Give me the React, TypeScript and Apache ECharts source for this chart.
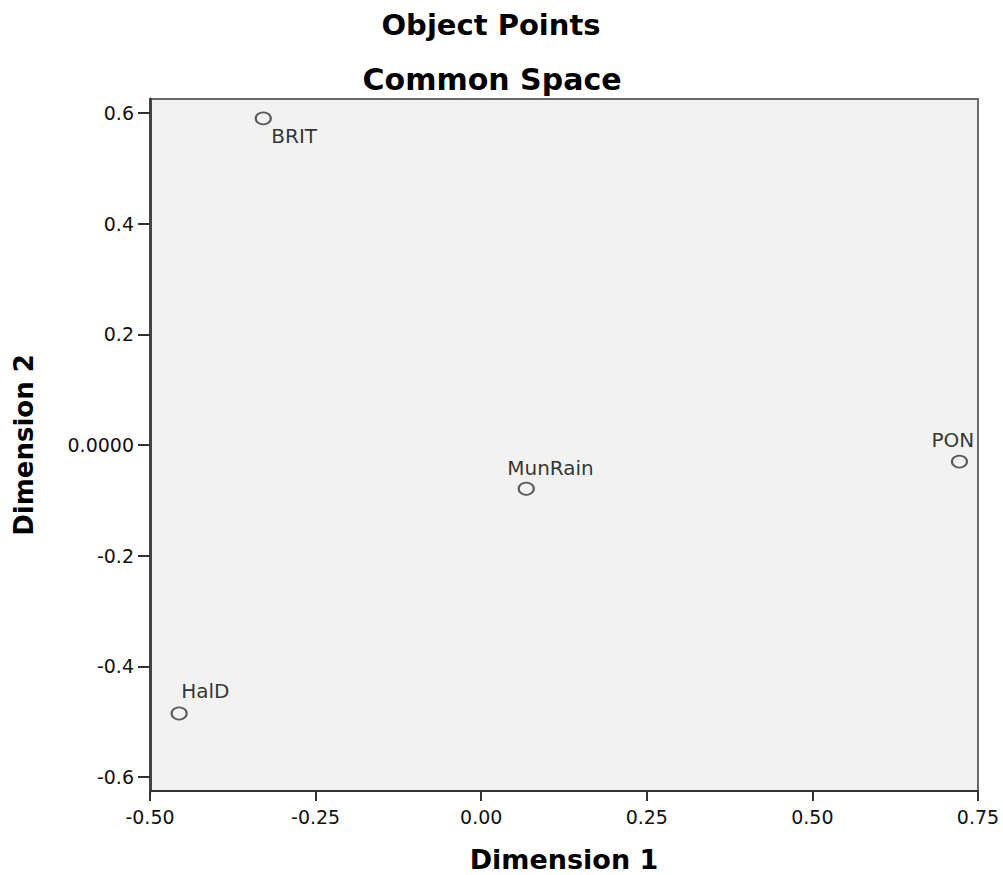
import React, { useEffect, useRef } from "react";
import * as echarts from "echarts";

const titleLines = ["Object Points", "Common Space"];
const xName = "Dimension 1";
const yName = "Dimension 2";
const pointNames = ["BRIT", "MunRain", "PON", "HalD"];
const dim1 = [-0.329, 0.068, 0.722, -0.456];
const dim2 = [0.59, -0.079, -0.03, -0.485];
const yTicks = [-0.6, -0.4, -0.2, 0, 0.2, 0.4, 0.6];

const labelOffsets: Record<string, number[]> = {
  BRIT: [8, 18],
  MunRain: [-19, -21],
  PON: [-28, -22],
  HalD: [2, -22],
};

const FONT = "DejaVu Sans";

export default function App() {
  const ref = useRef<HTMLDivElement>(null);
  useEffect(() => {
    document.body.style.margin = "0";
    const chart = echarts.init(ref.current!, undefined, { renderer: "svg" });
    const data = pointNames.map((n, i) => ({
      name: n,
      value: [dim1[i], dim2[i]],
      label: { offset: labelOffsets[n] },
    }));
    chart.setOption({
      animation: false,
      backgroundColor: "#ffffff",
      title: [
        {
          text: titleLines[0],
          left: 486,
          top: 5,
          textAlign: "center",
          textStyle: { fontFamily: FONT, fontWeight: "bold", fontSize: 29, color: "#000" },
        },
        {
          text: titleLines[1],
          left: 487,
          top: 59,
          textAlign: "center",
          textStyle: { fontFamily: FONT, fontWeight: "bold", fontSize: 30, color: "#000" },
        },
      ],
      grid: {
        left: 150,
        right: 25,
        top: 99,
        bottom: 84,
        outerBoundsMode: "none",
        containLabel: false,
        show: true,
        backgroundColor: "#f2f2f2",
        borderColor: "#6a6a6a",
        borderWidth: 2,
      },
      xAxis: {
        type: "value",
        min: -0.5,
        max: 0.75,
        interval: 0.25,
        name: xName,
        nameLocation: "middle",
        nameGap: 55,
        nameTextStyle: { fontFamily: FONT, fontWeight: "bold", fontSize: 27, color: "#000" },
        axisLine: { show: true, onZero: false, lineStyle: { color: "#333", width: 2 } },
        axisTick: { show: true, length: 10, lineStyle: { color: "#333", width: 2 } },
        axisLabel: {
          margin: 16,
          fontFamily: FONT,
          fontSize: 19,
          color: "#111",
          formatter: (v: number) => v.toFixed(2),
        },
        splitLine: { show: false },
      },
      yAxis: {
        type: "value",
        min: -0.625,
        max: 0.625,
        name: yName,
        nameLocation: "middle",
        nameGap: 113,
        nameRotate: 90,
        nameTextStyle: { fontFamily: FONT, fontWeight: "bold", fontSize: 26, color: "#000" },
        axisLine: { show: true, onZero: false, lineStyle: { color: "#444", width: 3 } },
        axisTick: {
          show: true,
          length: 12,
          customValues: yTicks,
          lineStyle: { color: "#333", width: 2 },
        },
        axisLabel: {
          margin: 16,
          fontFamily: FONT,
          fontSize: 19,
          color: "#111",
          customValues: yTicks,
          formatter: (v: number) => (Math.abs(v) < 1e-9 ? "0.0000" : v.toFixed(1)),
        },
        splitLine: { show: false },
      },
      series: [
        {
          type: "scatter",
          data,
          symbol: "circle",
          symbolSize: [15, 12],
          itemStyle: { color: "rgba(0,0,0,0)", borderColor: "#333", borderWidth: 2 },
          label: {
            show: true,
            position: "inside",
            align: "left",
            verticalAlign: "middle",
            formatter: "{b}",
            fontFamily: FONT,
            fontSize: 20,
            color: "#000",
            textBorderWidth: 0,
          },
        },
      ],
    });
    return () => chart.dispose();
  }, []);
  return (
    <div
      ref={ref}
      style={{ position: "absolute", left: 0, top: 0, width: 1003, height: 875 }}
    />
  );
}
